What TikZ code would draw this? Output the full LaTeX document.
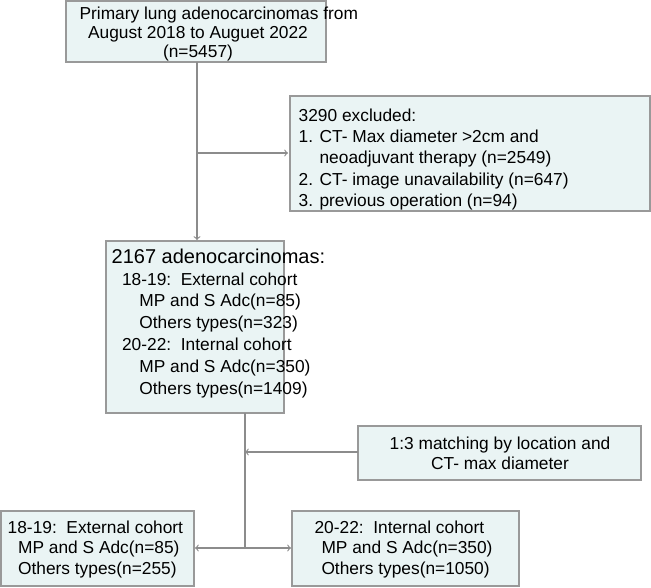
\documentclass[tikz,border=0pt]{standalone}
\usepackage{fontspec}
\setmainfont{Liberation Sans}
\begin{document}
\begin{tikzpicture}[x=0.75pt,y=-0.75pt,
flowbox/.style={draw=gray!80,fill={rgb,255:red,234;green,244;blue,244},line width=0.9pt},
link/.style={draw=gray!90,line width=0.9pt},
arr/.style={link,->,>=to}]
\useasboundingbox (0,0) rectangle (651,587);
% boxes
\draw[flowbox] (66,1) rectangle (326,62);
\draw[flowbox] (290,96) rectangle (650,211);
\draw[flowbox] (106,241) rectangle (284,413);
\draw[flowbox] (358,426) rectangle (641,480);
\draw[flowbox] (1,511) rectangle (194,586);
\draw[flowbox] (292,511) rectangle (519,586);
% texts
\node[align=center,font=\fontsize{13}{14.5}\selectfont] (src) at (198,34) {\hspace*{2.4em}Primary lung adenocarcinomas from\\August 2018 to Auguet 2022\hspace*{3.5em}\\(n=5457)};
\node[anchor=north west,align=left,font=\fontsize{13}{16}\selectfont] (excl) at (294,104) {3290 excluded:\\1. CT- Max diameter >2cm and\\\phantom{1. }neoadjuvant therapy (n=2549)\\2. CT- image unavailability (n=647)\\3. previous operation (n=94)};
\node[anchor=north west,align=left,font=\fontsize{13}{16.4}\selectfont] (mid) at (107,244) {{\fontsize{15}{16}\selectfont 2167 adenocarcinomas:}\\\hspace*{0.6em}18-19:\ \ External cohort\\\hspace*{1.6em}MP and S Adc(n=85)\\\hspace*{1.6em}Others types(n=323)\\\hspace*{0.6em}20-22:\ \ Internal cohort\\\hspace*{1.6em}MP and S Adc(n=350)\\\hspace*{1.6em}Others types(n=1409)};
\node[align=center,font=\fontsize{13}{15}\selectfont] (match) at (500,453) {1:3 matching by location and\\CT- max diameter};
\node[anchor=north west,align=left,font=\fontsize{13}{15.5}\selectfont] (ext) at (3,516) {18-19:\ \ External cohort\\\hspace*{0.6em}MP and S Adc(n=85)\\\hspace*{0.6em}Others types(n=255)};
\node[anchor=north west,align=left,font=\fontsize{13}{15.5}\selectfont] (int) at (296,516) {\hspace*{0.8em}20-22:\ \ Internal cohort\\\hspace*{1.2em}MP and S Adc(n=350)\\\hspace*{1.2em}Others types(n=1050)};
% connectors
\coordinate (j1) at (197,153);
\coordinate (j2) at (245,452);
\coordinate (j3) at (245,548);
\draw[arr] (197,62) -- (197,240);
\draw[arr] (j1) -- (288,153);
\draw[link] (245,413) -- (j3);
\draw[arr] (358,452) -- (j2);
\draw[arr] (j3) -- (195,548);
\draw[arr] (j3) -- (291,548);
\end{tikzpicture}
\end{document}
